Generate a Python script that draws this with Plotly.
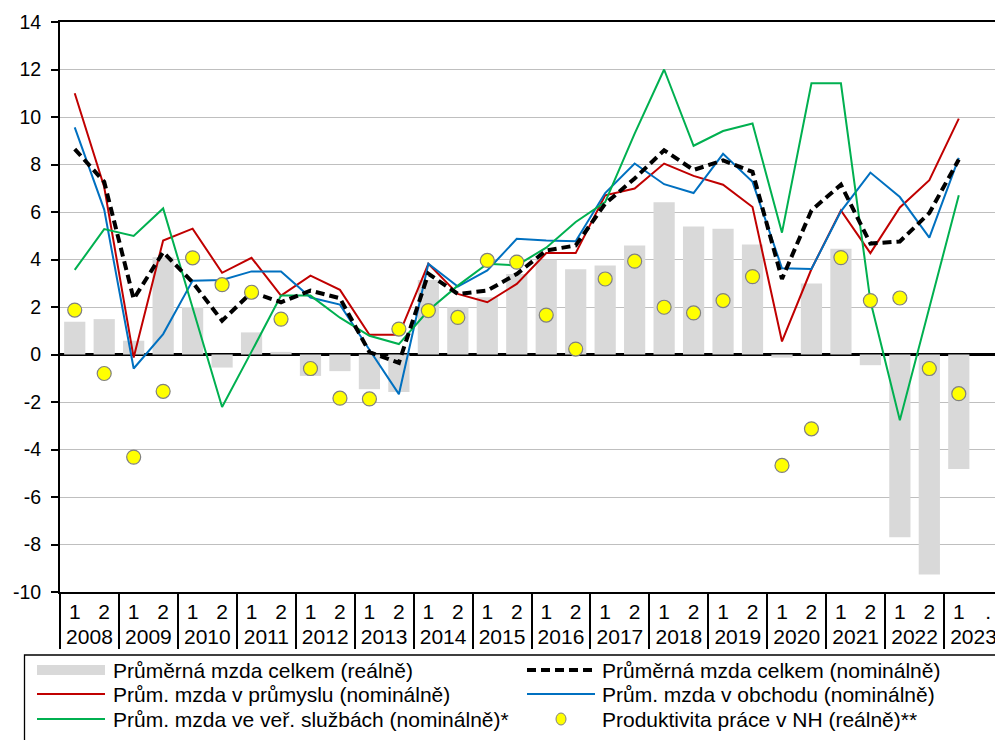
import plotly.graph_objects as go

years = ["2008", "2009", "2010", "2011", "2012", "2013", "2014", "2015",
         "2016", "2017", "2018", "2019", "2020", "2021", "2022", "2023"]
halves = ["1", "2"]
last_half_label = "."

# category arrays (31 half-years + one empty slot for 2023 H2)
year_cat = [y for y in years for _ in halves]
half_cat = [h for _ in years for h in halves]
half_cat[-1] = last_half_label

y_tick_values = [-10, -8, -6, -4, -2, 0, 2, 4, 6, 8, 10, 12, 14]
y_tick_labels = ["-10", "-8", "-6", "-4", "-2", "0", "2", "4", "6", "8", "10", "12", "14"]

real_wage = [1.38, 1.49, 0.58, 4.10, 2.00, -0.55, 0.93, 0.11, -0.90, -0.70,
             -1.46, -1.58, 3.14, 1.99, 2.41, 3.39, 3.99, 3.59, 3.75, 4.59,
             6.41, 5.39, 5.30, 4.63, -0.13, 2.99, 4.45, -0.45, -7.69, -9.26,
             -4.82, None]
nominal_wage = [8.65, 7.27, 2.34, 4.31, 3.04, 1.42, 2.62, 2.20, 2.69, 2.37,
                0.10, -0.35, 3.40, 2.55, 2.69, 3.39, 4.38, 4.59, 6.35, 7.41,
                8.60, 7.77, 8.17, 7.69, 3.18, 6.07, 7.15, 4.67, 4.76, 5.96,
                8.21, None]
industry_wage = [11.0, 7.05, -0.13, 4.80, 5.30, 3.44, 4.07, 2.48, 3.32, 2.72,
                 0.83, 0.83, 3.82, 2.55, 2.20, 2.97, 4.27, 4.27, 6.70, 6.99,
                 8.04, 7.52, 7.15, 6.21, 0.55, 3.60, 6.07, 4.27, 6.19, 7.34,
                 9.93, None]
trade_wage = [9.56, 6.10, -0.59, 0.86, 3.11, 3.14, 3.50, 3.50, 2.40, 2.10,
              0.20, -1.67, 3.82, 2.86, 3.54, 4.87, 4.80, 4.77, 6.80, 8.04,
              7.17, 6.80, 8.45, 7.27, 3.63, 3.60, 6.03, 7.66, 6.63, 4.92,
              8.28, None]
public_wage = [3.56, 5.28, 4.99, 6.15, 1.97, -2.21, 0.12, 2.48, 2.48, 1.55,
               0.79, 0.44, 1.85, 2.90, 3.82, 3.75, 4.50, 5.58, 6.42, 9.30,
               12.0, 8.79, 9.41, 9.73, 5.13, 11.42, 11.42, 2.25, -2.77, 1.97,
               6.71, None]
productivity = [1.87, -0.80, -4.32, -1.55, 4.07, 2.94, 2.62, 1.49, -0.59, -1.84,
                -1.87, 1.07, 1.85, 1.56, 3.96, 3.89, 1.66, 0.23, 3.18, 3.93,
                1.99, 1.75, 2.27, 3.28, -4.67, -3.13, 4.08, 2.27, 2.38, -0.59,
                -1.65, None]

legend_names = [
    "Průměrná mzda celkem (reálně)",
    "Průměrná mzda celkem (nominálně)",
    "Prům. mzda v průmyslu (nominálně)",
    "Prům. mzda v obchodu (nominálně)",
    "Prům. mzda ve veř. službách (nominálně)*",
    "Produktivita práce v NH (reálně)**",
]

GRAY = "#d9d9d9"
RED = "#c00000"
BLUE = "#0070c0"
GREEN = "#00b050"
FONT = "Liberation Sans, Arial, sans-serif"

x = [year_cat, half_cat]

fig = go.Figure()
fig.add_trace(go.Bar(x=x, y=real_wage, marker=dict(color=GRAY, line=dict(width=0)),
                     name=legend_names[0], showlegend=False))
fig.add_trace(go.Scatter(x=x, y=industry_wage, mode="lines", line=dict(color=RED, width=2),
                         name=legend_names[2], showlegend=False))
fig.add_trace(go.Scatter(x=x, y=trade_wage, mode="lines", line=dict(color=BLUE, width=2),
                         name=legend_names[3], showlegend=False))
fig.add_trace(go.Scatter(x=x, y=public_wage, mode="lines", line=dict(color=GREEN, width=2),
                         name=legend_names[4], showlegend=False))
fig.add_trace(go.Scatter(x=x, y=nominal_wage, mode="lines",
                         line=dict(color="black", width=4, dash="9px,5px"),
                         name=legend_names[1], showlegend=False))
fig.add_trace(go.Scatter(x=x, y=productivity, mode="markers",
                         marker=dict(color="#ffff00", size=14, line=dict(color="#808080", width=1.2)),
                         name=legend_names[5], showlegend=False))

# The page body adds an 8px offset; the figure is sized so it ends at the window edge.
OFF = 8
W, H = 1003 - OFF, 740 - OFF
L, T = 60 - OFF, 22 - OFF
pw, ph = W - L, 570
B = H - T - ph


def px(xpage):
    return (xpage - OFF - L) / pw


def py(ypage):
    return (H - B - (ypage - OFF)) / ph


shapes = []
annotations = []
# legend frame
shapes.append(dict(type="rect", xref="paper", yref="paper",
                   x0=px(24.5), x1=px(1020), y0=py(655), y1=py(770),
                   line=dict(color="black", width=1.3), fillcolor="rgba(0,0,0,0)"))
rows = [670, 694, 719]
col1_sym = (37, 105)
col1_txt = 111
col2_sym = (527, 595)
col2_txt = 600

# row 1 col 1: bar symbol
shapes.append(dict(type="rect", xref="paper", yref="paper",
                   x0=px(col1_sym[0]), x1=px(col1_sym[1]), y0=py(rows[0] + 5), y1=py(rows[0] - 5),
                   line=dict(width=0), fillcolor=GRAY))
# row 1 col 2: dashed black
shapes.append(dict(type="line", xref="paper", yref="paper",
                   x0=px(col2_sym[0]), x1=px(col2_sym[1]), y0=py(rows[0]), y1=py(rows[0]),
                   line=dict(color="black", width=4, dash="9px,5px")))
# row 2: red, blue
shapes.append(dict(type="line", xref="paper", yref="paper",
                   x0=px(col1_sym[0]), x1=px(col1_sym[1]), y0=py(rows[1]), y1=py(rows[1]),
                   line=dict(color=RED, width=2)))
shapes.append(dict(type="line", xref="paper", yref="paper",
                   x0=px(col2_sym[0]), x1=px(col2_sym[1]), y0=py(rows[1]), y1=py(rows[1]),
                   line=dict(color=BLUE, width=2)))
# row 3: green, circle
shapes.append(dict(type="line", xref="paper", yref="paper",
                   x0=px(col1_sym[0]), x1=px(col1_sym[1]), y0=py(rows[2]), y1=py(rows[2]),
                   line=dict(color=GREEN, width=2)))
shapes.append(dict(type="circle", xref="paper", yref="paper",
                   xsizemode="pixel", ysizemode="pixel",
                   xanchor=px(561), yanchor=py(rows[2]),
                   x0=-5, x1=5, y0=-6, y1=6,
                   line=dict(color="#808080", width=1), fillcolor="#ffff00"))

texts = [(col1_txt, rows[0], legend_names[0]), (col2_txt, rows[0], legend_names[1]),
         (col1_txt, rows[1], legend_names[2]), (col2_txt, rows[1], legend_names[3]),
         (col1_txt, rows[2], legend_names[4]), (col2_txt, rows[2], legend_names[5])]
for tx, ty, t in texts:
    annotations.append(dict(xref="paper", yref="paper", x=px(tx), y=py(ty), text=t,
                            showarrow=False, xanchor="left", yanchor="middle",
                            font=dict(family=FONT, size=21, color="black")))

fig.update_layout(
    width=W, height=H,
    margin=dict(l=L, r=0, t=T, b=B, autoexpand=False),
    paper_bgcolor="white", plot_bgcolor="white",
    bargap=0.28,
    font=dict(family=FONT, size=19, color="black"),
    shapes=shapes,
    annotations=annotations,
    showlegend=False,
)
fig.update_xaxes(
    type="multicategory",
    range=[-0.5, 31.5],
    showline=True, mirror=True, linecolor="black", linewidth=2,
    ticks="", showgrid=False,
    dividercolor="black", dividerwidth=2,
    tickfont=dict(family=FONT, size=21, color="black"),
    automargin=False,
)
fig.update_yaxes(
    range=[-10, 14],
    tickmode="array", tickvals=y_tick_values, ticktext=y_tick_labels,
    showline=True, linecolor="black", linewidth=2,
    ticks="outside", ticklen=7, tickwidth=1.5, tickcolor="black",
    showgrid=True, gridcolor="#bfbfbf", gridwidth=1.3,
    zeroline=True, zerolinecolor="black", zerolinewidth=2.5,
    tickfont=dict(family=FONT, size=19.5, color="black"),
    ticklabelstandoff=6,
    automargin=False,
)

fig.write_html("out.html")
